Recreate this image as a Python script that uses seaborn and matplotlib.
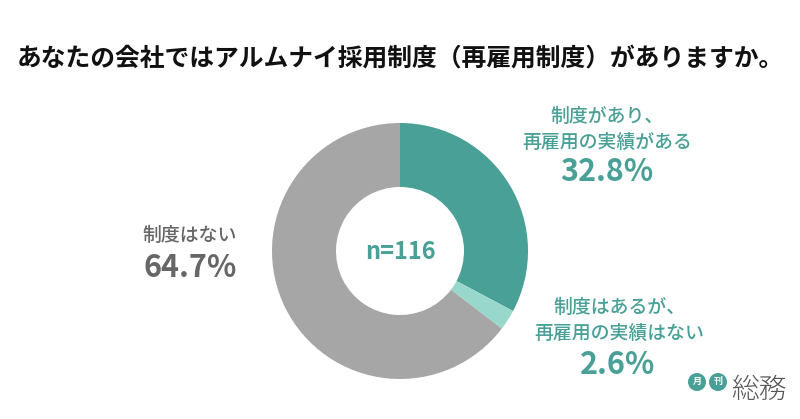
import matplotlib
matplotlib.use("Agg")
import matplotlib.pyplot as plt
import seaborn as sns
from matplotlib.patches import Ellipse

sns.set_theme(style="white")
plt.rcParams['font.family'] = ['Noto Sans CJK JP', 'DejaVu Sans']

title = "あなたの会社ではアルムナイ採用制度（再雇用制度）がありますか。"
labels = ["制度があり、\n再雇用の実績がある", "制度はあるが、\n再雇用の実績はない", "制度はない"]
values = [32.8, 2.6, 64.7]
pct_labels = ["32.8%", "2.6%", "64.7%"]
colors = ["#48a096", "#98d8cc", "#a6a6a6"]
center_text = "n=116"

W, H = 800, 419
fig = plt.figure(figsize=(8, 4.19), dpi=100, facecolor="white")

# donut
ax = fig.add_axes([272 / W, (H - 379) / H, 256 / W, 256 / H])
ax.pie(values, colors=sns.color_palette(colors), startangle=90, counterclock=False,
       radius=1.0, wedgeprops=dict(width=0.5, linewidth=0))
ax.set_xlim(-1, 1)
ax.set_ylim(-1, 1)
ax.text(0, -0.01, center_text, color="#48a096", fontsize=17, fontweight="bold",
        ha="center", va="center")

def put(x, y, s, **kw):
    fig.text(x / W, 1 - y / H, s, ha="center", va="center", **kw)

put(400, 59, title, color="#111111", fontsize=17.85, fontweight="bold")

put(607, 129, labels[0], color="#48a096", fontsize=13.6, fontweight="medium", linespacing=1.35)
put(607, 172, pct_labels[0], color="#48a096", fontsize=22, fontweight="bold")

put(619, 320, labels[1], color="#48a096", fontsize=13.6, fontweight="medium", linespacing=1.35)
put(618, 365, pct_labels[1], color="#48a096", fontsize=22, fontweight="bold")

put(190, 235, labels[2], color="#666666", fontsize=13.6, fontweight="medium")
put(190, 268, pct_labels[2], color="#666666", fontsize=22, fontweight="bold")

# logo
over = fig.add_axes([0, 0, 1, 1], facecolor="none")
over.set_xlim(0, W)
over.set_ylim(H, 0)
over.axis("off")
for cx, ch in [(697, "月"), (718, "刊")]:
    over.add_patch(Ellipse((cx, 382), 18, 18, color="#48a096", lw=0))
    over.text(cx, 381.5, ch, color="white", fontsize=6.5, fontweight="bold", ha="center", va="center")
over.text(759, 390, "総務", color="#555555", fontsize=20, fontweight="light", ha="center", va="center")

fig.savefig("out.png", dpi=100)
